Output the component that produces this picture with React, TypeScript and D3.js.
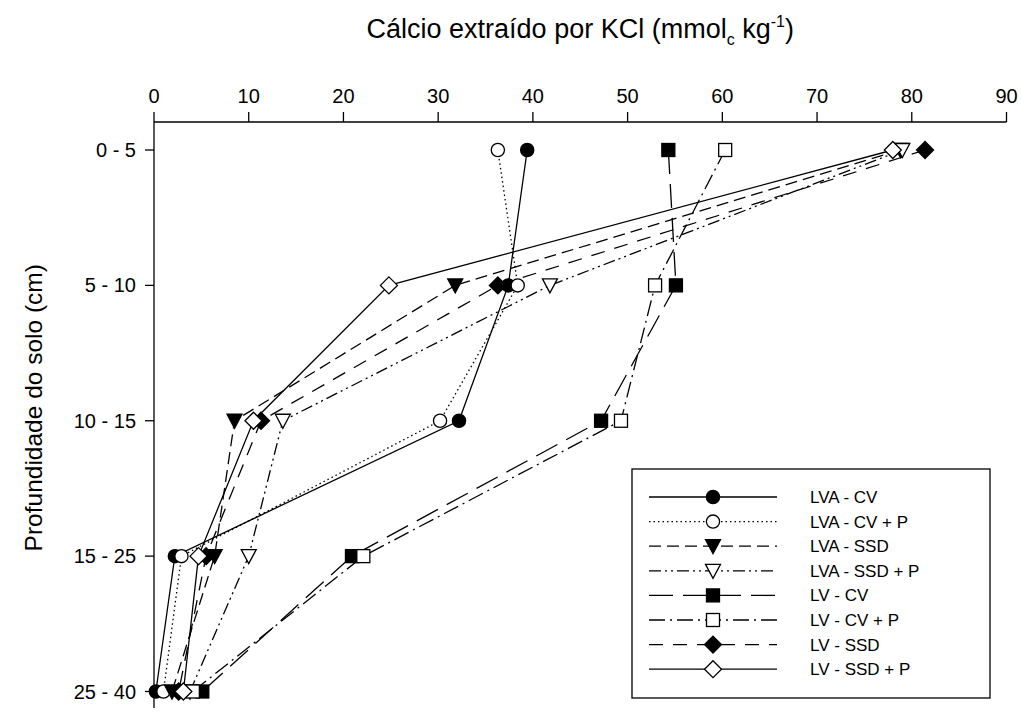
import * as d3 from 'd3';

// Depth classes (y categories)
const depths = ['0 - 5', '5 - 10', '10 - 15', '15 - 25', '25 - 40'];
const xTicks = [0, 10, 20, 30, 40, 50, 60, 70, 80, 90];

// Ca extracted by KCl, one array per treatment (same order as depths)
const lvaCv = [39.4, 37.4, 32.2, 2.2, 0.2];
const lvaCvP = [36.3, 38.4, 30.2, 2.9, 1.0];
const lvaSsd = [78.8, 31.8, 8.5, 6.4, 1.9];
const lvaSsdP = [79.0, 41.8, 13.6, 10.0, 3.8];
const lvCv = [54.3, 55.1, 47.2, 20.9, 5.1];
const lvCvP = [60.3, 52.9, 49.3, 22.1, 4.1];
const lvSsd = [81.4, 36.3, 11.3, 5.5, 2.6];
const lvSsdP = [78.0, 24.8, 10.5, 4.7, 3.1];

type Shape = 'circle' | 'triangle' | 'square' | 'diamond';

const series = [
  { name: 'LVA - CV', values: lvaCv, shape: 'circle' as Shape, filled: true, dash: '' },
  { name: 'LVA - CV + P', values: lvaCvP, shape: 'circle' as Shape, filled: false, dash: '1.5,3' },
  { name: 'LVA - SSD', values: lvaSsd, shape: 'triangle' as Shape, filled: true, dash: '12,6' },
  { name: 'LVA - SSD + P', values: lvaSsdP, shape: 'triangle' as Shape, filled: false, dash: '12,4,2,4,2,4' },
  { name: 'LV - CV', values: lvCv, shape: 'square' as Shape, filled: true, dash: '24,10' },
  { name: 'LV - CV + P', values: lvCvP, shape: 'square' as Shape, filled: false, dash: '16,5,2,5' },
  { name: 'LV - SSD', values: lvSsd, shape: 'diamond' as Shape, filled: true, dash: '14,10' },
  { name: 'LV - SSD + P', values: lvSsdP, shape: 'diamond' as Shape, filled: false, dash: '' },
];

const FONT = '"Liberation Sans", Arial, sans-serif';

function Marker({ shape, filled, cx, cy }: { shape: Shape; filled: boolean; cx: number; cy: number }) {
  const fill = filled ? '#000' : '#fff';
  const common = { fill, stroke: '#000', strokeWidth: 1.3 };
  if (shape === 'circle') return <circle cx={cx} cy={cy} r={6.6} {...common} />;
  if (shape === 'square') return <rect x={cx - 6.5} y={cy - 6.5} width={13} height={13} {...common} />;
  if (shape === 'triangle')
    return <polygon points={`${cx - 7.5},${cy - 6.5} ${cx + 7.5},${cy - 6.5} ${cx},${cy + 7.5}`} {...common} />;
  return <polygon points={`${cx},${cy - 8.5} ${cx + 8.5},${cy} ${cx},${cy + 8.5} ${cx - 8.5},${cy}`} {...common} />;
}

export default function App() {
  const width = 1021;
  const height = 715;

  // Scales
  const x = d3.scaleLinear().domain([0, 90]).range([154, 1006.5]);
  const y = d3.scalePoint<string>().domain(depths).range([150, 691.5]);
  const axisTop = 122;
  const axisBottom = 708;

  const line = d3
    .line<number>()
    .x(d => x(d))
    .y((_, i) => y(depths[i]) as number);

  // Legend
  const legX = 632;
  const legY = 469;
  const legW = 358;
  const legH = 229;
  const rowY = (i: number) => legY + 28 + i * 24.6;

  return (
    <svg width={width} height={height} style={{ position: 'absolute', left: 0, top: 0 }} fontFamily={FONT}>
      <rect width={width} height={height} fill="#fff" />

      {/* Title */}
      <text x={x(45)} y={38} fontSize={27} textAnchor="middle" fill="#000">
        Cálcio extraído por KCl (mmol
        <tspan fontSize={16} dy={7}>c</tspan>
        <tspan dy={-7}> kg</tspan>
        <tspan fontSize={16} dy={-11}>-1</tspan>
        <tspan dy={11}>)</tspan>
      </text>

      {/* Top axis */}
      <line x1={x(0)} x2={x(90)} y1={axisTop} y2={axisTop} stroke="#000" strokeWidth={1.3} />
      {xTicks.map(t => (
        <g key={t}>
          <line x1={x(t)} x2={x(t)} y1={axisTop} y2={axisTop - 10} stroke="#000" strokeWidth={1.3} />
          <text x={x(t)} y={103} fontSize={20} textAnchor="middle" fill="#000">
            {t}
          </text>
        </g>
      ))}

      {/* Left axis */}
      <line x1={x(0)} x2={x(0)} y1={axisTop} y2={axisBottom} stroke="#000" strokeWidth={1.3} />
      {depths.map(d => (
        <g key={d}>
          <line x1={x(0) - 9} x2={x(0)} y1={y(d)} y2={y(d)} stroke="#000" strokeWidth={1.3} />
          <text x={x(0) - 18} y={(y(d) as number) + 7} fontSize={20} textAnchor="end" fill="#000">
            {d}
          </text>
        </g>
      ))}
      <text
        transform={`translate(42, ${(y('10 - 15') as number) - 13}) rotate(-90)`}
        fontSize={24.5}
        textAnchor="middle"
        fill="#000"
      >
        Profundidade do solo (cm)
      </text>

      {/* Lines */}
      {series.map(s => (
        <path
          key={s.name + '-line'}
          d={line(s.values) ?? ''}
          fill="none"
          stroke="#000"
          strokeWidth={1.3}
          strokeDasharray={s.dash || undefined}
        />
      ))}

      {/* Markers */}
      {series.map(s =>
        s.values.map((v, i) => (
          <Marker key={s.name + i} shape={s.shape} filled={s.filled} cx={x(v)} cy={y(depths[i]) as number} />
        ))
      )}

      {/* Legend */}
      <rect x={legX} y={legY} width={legW} height={legH} fill="#fff" stroke="#000" strokeWidth={1.3} />
      {series.map((s, i) => (
        <g key={s.name + '-leg'}>
          <line
            x1={649}
            x2={777}
            y1={rowY(i)}
            y2={rowY(i)}
            stroke="#000"
            strokeWidth={1.3}
            strokeDasharray={s.dash || undefined}
          />
          <Marker shape={s.shape} filled={s.filled} cx={713} cy={rowY(i)} />
          <text x={810} y={rowY(i) + 6} fontSize={17} fill="#000">
            {s.name}
          </text>
        </g>
      ))}
    </svg>
  );
}
